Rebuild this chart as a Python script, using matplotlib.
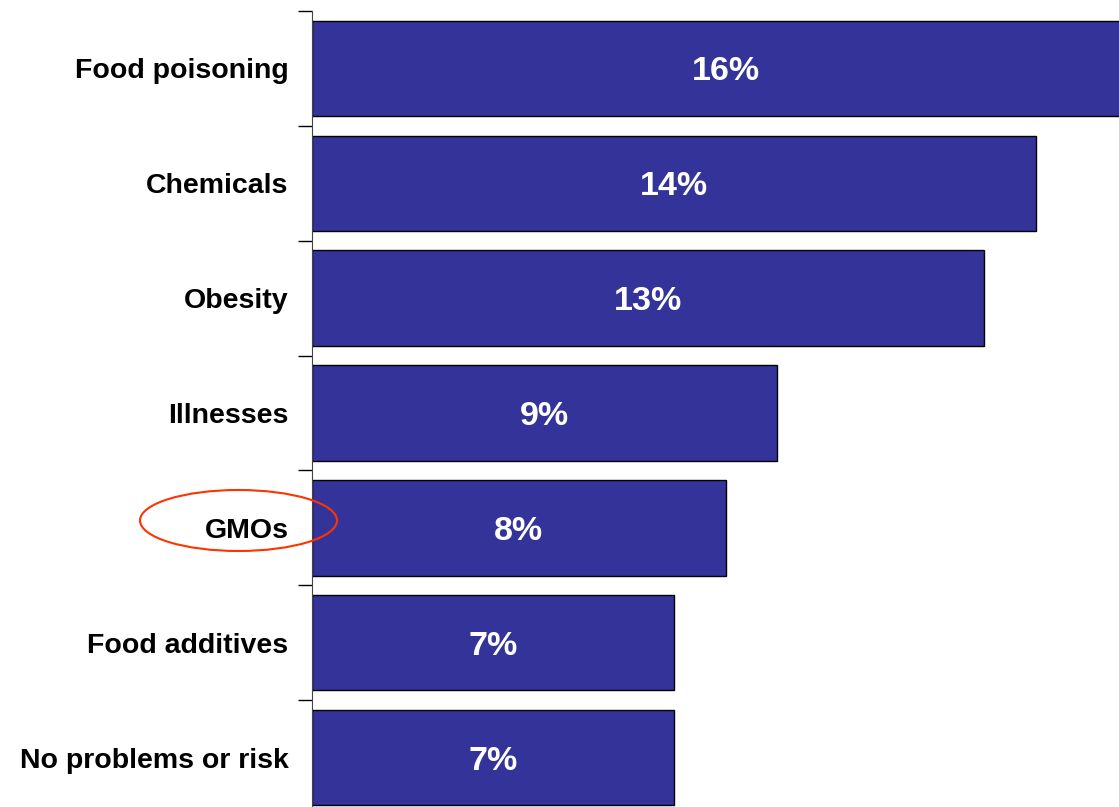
import matplotlib.pyplot as plt
from matplotlib.patches import Ellipse

# Data (top to bottom)
categories = ['Food poisoning', 'Chemicals', 'Obesity', 'Illnesses', 'GMOs',
              'Food additives', 'No problems or risk']
values = [16, 14, 13, 9, 8, 7, 7]
value_labels = ['16%', '14%', '13%', '9%', '8%', '7%', '7%']

plt.rcParams['font.family'] = ['Liberation Sans', 'DejaVu Sans']

fig = plt.figure(figsize=(11.19, 8.07), dpi=100)
W, H = 1119, 807
# axes runs past the right and bottom edge of the picture (cropped chart)
x0, x1 = 312, 312 + 16 * 51.7
y_top, y_bot = 11, 815
ax = fig.add_axes([x0 / W, 1 - y_bot / H, (x1 - x0) / W, (y_bot - y_top) / H])

pos = list(range(len(categories)))
ax.barh(pos, values, height=0.83, color='#333399', edgecolor='black', linewidth=1.0)

for p, v, lab in zip(pos, values, value_labels):
    ax.text(v / 2, p, lab, ha='center', va='center_baseline', color='white',
            fontsize=24.5, fontweight='bold')

ax.set_xlim(0, 16)
ax.set_ylim(len(categories) - 0.5, -0.5)

# ticks at the category boundaries, labels at the centres
ax.set_yticks([i - 0.5 for i in range(len(categories) + 1)])
ax.set_yticklabels([])
ax.set_yticks(pos, minor=True)
ax.set_yticklabels(categories, minor=True, fontsize=20.5, fontweight='bold')
ax.tick_params(axis='y', which='major', length=10, width=1, color='black')
ax.tick_params(axis='y', which='minor', length=0, pad=17)
ax.set_xticks([])

for s in ['top', 'right', 'bottom']:
    ax.spines[s].set_visible(False)
ax.spines['left'].set_color('#444444')

# red circle around GMOs
ell = Ellipse((238.5 / W, 1 - 520.5 / H), 197 / W, 61 / H, transform=fig.transFigure,
              fill=False, edgecolor='#FF3300', linewidth=1.5)
fig.patches.append(ell)

fig.savefig('out.png', dpi=100)
